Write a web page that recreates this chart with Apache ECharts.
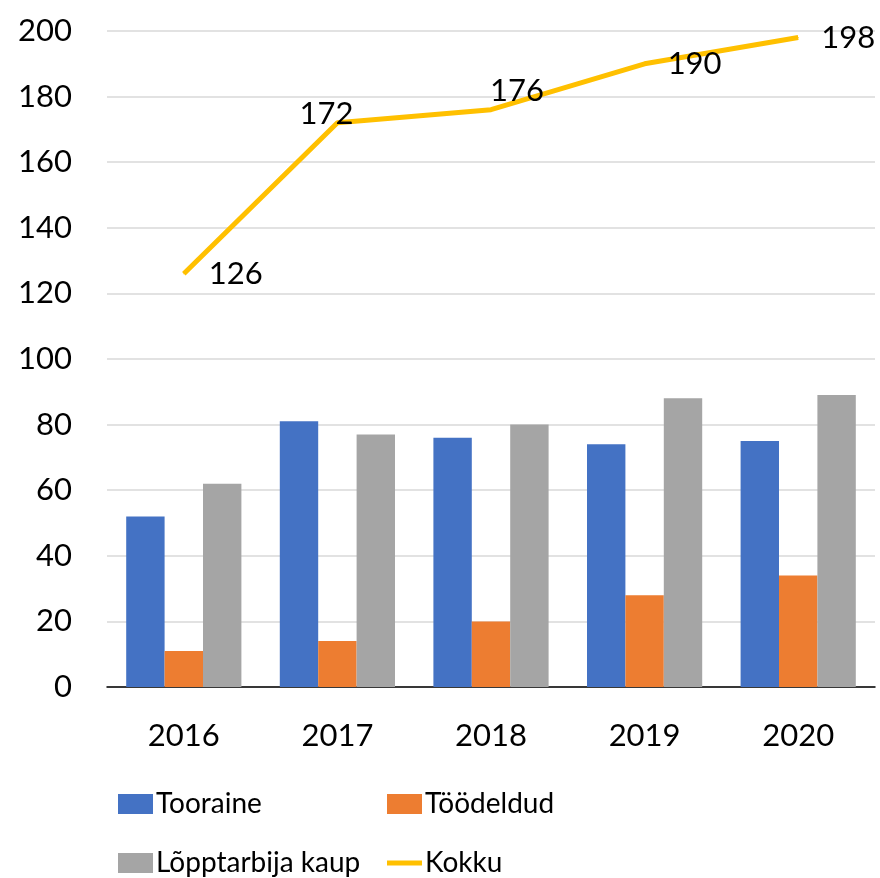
<!DOCTYPE html>
<html>
<head>
<meta charset="utf-8">
<script src="https://cdn.jsdelivr.net/npm/echarts@6/dist/echarts.min.js"></script>
<style>
  html, body { margin: 0; padding: 0; background: #fff; }
  #chart { width: 880px; height: 878px; }
</style>
</head>
<body>
<div id="chart"></div>
<script>
// andmed
var years = ['2016', '2017', '2018', '2019', '2020']
var tooraine = [52, 81, 76, 74, 75]
var toodeldud = [11, 14, 20, 28, 34]
var lopptarbija = [62, 77, 80, 88, 89]
var kokku = [126, 172, 176, 190, 198]

// sildi nihked joone punktide juures
var labelOffsets = [[52, 0], [-11, -9], [26, -19], [50, 0], [50, 0]]

var font = 'Lato, "Open Sans", sans-serif'

function bar(name, data, color) {
  return {
    name: name,
    type: 'bar',
    data: data,
    barGap: '0%',
    barCategoryGap: '25%',
    itemStyle: { color: color }
  }
}

// üks legendi kirje = üks komponent, et saaks 2x2 paigutuse
function legendItem(name, left, top, h) {
  return {
    left: left,
    top: top,
    padding: 0,
    itemWidth: 35,
    itemHeight: h,
    icon: 'rect',
    data: [name],
    textStyle: { color: '#000', fontSize: 28, fontFamily: font, padding: [0, 0, 0, -2] }
  }
}

var option = {
  animation: false,
  grid: { left: 107, right: 5, top: 31, bottom: 191 },
  xAxis: {
    type: 'category',
    data: years,
    axisLine: { lineStyle: { color: '#000', width: 1.5 } },
    axisTick: { inside: true, length: 11, lineStyle: { color: '#000', width: 1.5 } },
    axisLabel: { color: '#000', fontSize: 31, fontFamily: font, margin: 33 }
  },
  yAxis: {
    type: 'value',
    min: 0,
    max: 200,
    interval: 20,
    axisLine: { show: false },
    axisTick: { show: false },
    splitLine: { lineStyle: { color: '#d9d9d9', width: 1.5 } },
    axisLabel: { color: '#000', fontSize: 31, fontFamily: font, margin: 35 }
  },
  legend: [
    legendItem('Tooraine', 118, 790, 20),
    legendItem('Töödeldud', 387, 790, 20),
    legendItem('Lõpptarbija kaup', 118, 849, 20),
    legendItem('Kokku', 387, 849, 5)
  ],
  series: [
    bar('Tooraine', tooraine, '#4472c4'),
    bar('Töödeldud', toodeldud, '#ed7d31'),
    bar('Lõpptarbija kaup', lopptarbija, '#a5a5a5'),
    {
      name: 'Kokku',
      type: 'line',
      data: kokku.map(function (v, i) {
        return { value: v, label: { offset: labelOffsets[i] } }
      }),
      symbol: 'circle',
      symbolSize: 1,
      showSymbol: true,
      itemStyle: { color: '#ffc000' },
      lineStyle: { color: '#ffc000', width: 5 },
      label: {
        show: true,
        position: 'inside',
        color: '#000',
        fontSize: 31,
        fontFamily: font
      },
      z: 5
    }
  ]
}

var chartObj = echarts.init(document.getElementById('chart'))
chartObj.setOption(option)
</script>
</body>
</html>
